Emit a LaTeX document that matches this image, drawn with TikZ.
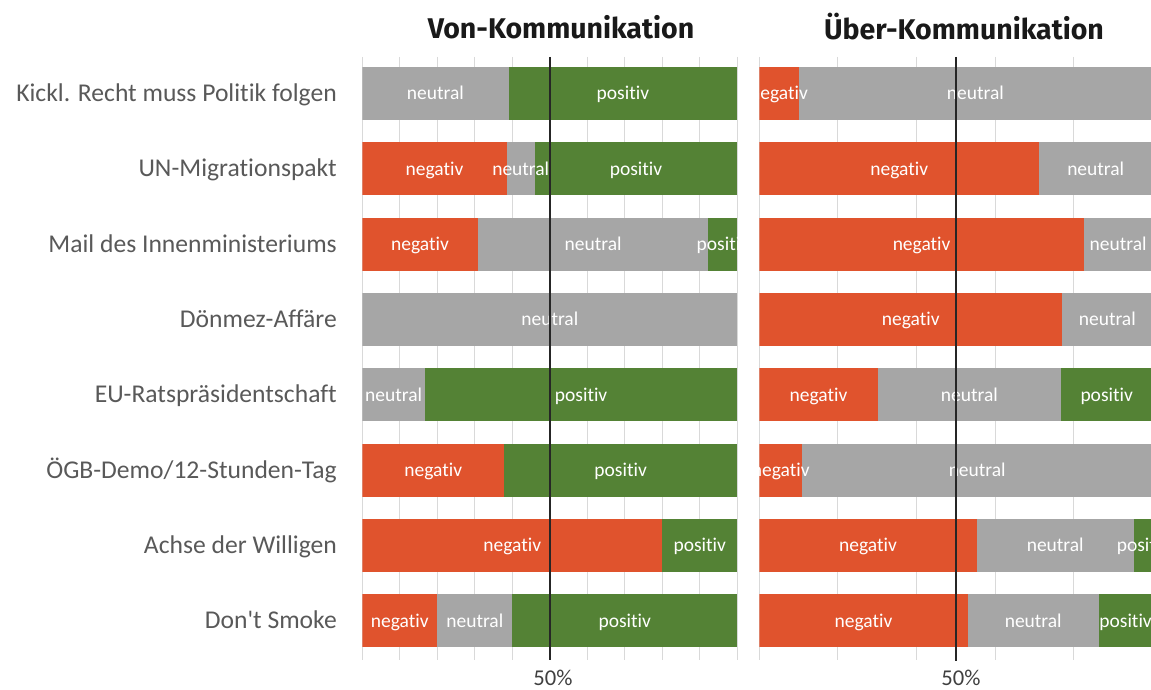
\documentclass[tikz,border=0pt]{standalone}
\usepackage{fontspec}
\setmainfont{Carlito}[Ligatures=NoCommon]
\newfontfamily\headfont{Fira Sans}
\usetikzlibrary{positioning}
\definecolor{negred}{HTML}{E0532D}
\definecolor{neugray}{HTML}{A6A6A6}
\definecolor{posgreen}{HTML}{548235}
\definecolor{gridgray}{HTML}{D9D9D9}
\definecolor{catgray}{HTML}{595959}
\definecolor{axisgray}{HTML}{404040}

\begin{document}
\begin{tikzpicture}[
  x=1pt, y=-1pt,
  head/.style    ={font=\headfont\bfseries\fontsize{28.5}{29}\selectfont, text=black!90},
  cat/.style     ={anchor=base east, inner sep=0pt, font=\fontsize{25.6}{26}\selectfont, text=catgray},
  seglabel/.style={anchor=base, inner sep=0pt, font=\fontsize{19.5}{20}\selectfont, text=white},
  ticklabel/.style={inner sep=0pt, font=\fontsize{22.6}{23}\selectfont, text=axisgray},
  gridline/.style={draw=gridgray, line width=0.9pt},
  midline/.style ={draw=black!85, line width=1.5pt},
  segneg/.style={fill=negred}, segneu/.style={fill=neugray}, segpos/.style={fill=posgreen},
]
  \useasboundingbox (0,0) rectangle (1151,690);

  % Kategorien
  \foreach \r/\name in {1/{Kickl. Recht muss Politik folgen}, 2/{UN-Migrationspakt},
      3/{Mail des Innenministeriums}, 4/{Dönmez-Affäre}, 5/{EU-Ratspräsidentschaft},
      6/{ÖGB-Demo/12-Stunden-Tag}, 7/{Achse der Willigen}, 8/{Don\textquotesingle t Smoke}}
    \node[cat] (cat\r) at (337,{93.3+75.36*(\r-1)+8}) {\name};

  % Titel
  \node[head] (vonhead)  at (561,27) {Von-Kommunikation};
  \node[head] (uberhead) at (964,27) {Über-Kommunikation};

  % Gitterlinien
  \foreach \g in {0,10,...,100}
    \draw[gridline] ({362.3+3.75*\g},57) -- ({362.3+3.75*\g},660);
  \foreach \g in {0,20,...,100}
    \draw[gridline] ({759.3+3.93*\g},57) -- ({759.3+3.93*\g},660);

  % Von-Kommunikation
  \begin{scope}
    \clip (362.3,40) rectangle (737.3,670);
    \foreach \r/\segs in {
        1/{segneu/0/39/neutral, segpos/39/100/positiv},
        2/{segneg/0/38.5/negativ, segneu/38.5/46/neutral, segpos/46/100/positiv},
        3/{segneg/0/30.8/negativ, segneu/30.8/92.3/neutral, segpos/92.3/100/positiv},
        4/{segneu/0/100/neutral},
        5/{segneu/0/16.7/neutral, segpos/16.7/100/positiv},
        6/{segneg/0/37.8/negativ, segpos/37.8/100/positiv},
        7/{segneg/0/80/negativ, segpos/80/100/positiv},
        8/{segneg/0/20/negativ, segneu/20/40/neutral, segpos/40/100/positiv}} {
      \pgfmathsetmacro{\yc}{93.3+75.36*(\r-1)}
      \foreach \k/\a/\b/\txt in \segs
        \fill[\k] ({362.3+3.75*\a},\yc-26.5) rectangle ({362.3+3.75*\b},\yc+26.5);
      \foreach \k/\a/\b/\txt in \segs
        \node[seglabel] (von\r\k) at ({362.3+3.75*(\a+\b)/2},\yc+6.5) {\txt};
    }
  \end{scope}

  % Über-Kommunikation
  \begin{scope}
    \clip (759.3,40) rectangle (1151,670);
    \foreach \r/\segs in {
        1/{segneg/0/10/negativ, segneu/10/100/neutral},
        2/{segneg/0/71.2/negativ, segneu/71.2/100/neutral},
        3/{segneg/0/82.6/negativ, segneu/82.6/100/neutral},
        4/{segneg/0/77.1/negativ, segneu/77.1/100/neutral},
        5/{segneg/0/30.1/negativ, segneu/30.1/76.8/neutral, segpos/76.8/100/positiv},
        6/{segneg/0/10.9/negativ, segneu/10.9/100/neutral},
        7/{segneg/0/55.3/negativ, segneu/55.3/95.3/neutral, segpos/95.3/100/positiv},
        8/{segneg/0/53/negativ, segneu/53/86.4/neutral, segpos/86.4/100/positiv}} {
      \pgfmathsetmacro{\yc}{93.3+75.36*(\r-1)}
      \foreach \k/\a/\b/\txt in \segs
        \fill[\k] ({759.3+3.93*\a},\yc-26.5) rectangle ({759.3+3.93*\b},\yc+26.5);
      \foreach \k/\a/\b/\txt in \segs
        \node[seglabel] (uber\r\k) at ({759.3+3.93*(\a+\b)/2},\yc+6.5) {\txt};
    }
  \end{scope}

  % 50%-Linien
  \coordinate (vontop) at (549.8,57);
  \coordinate (vonbot) at (549.8,660);
  \coordinate (ubertop) at (955.8,57);
  \coordinate (uberbot) at (955.8,661);
  \draw[midline] (vontop) -- (vonbot);
  \draw[midline] (ubertop) -- (uberbot);
  \node[ticklabel] (vonhalf)  at (553,678) {50\%};
  \node[ticklabel] (uberhalf) at (961,678) {50\%};
\end{tikzpicture}
\end{document}
